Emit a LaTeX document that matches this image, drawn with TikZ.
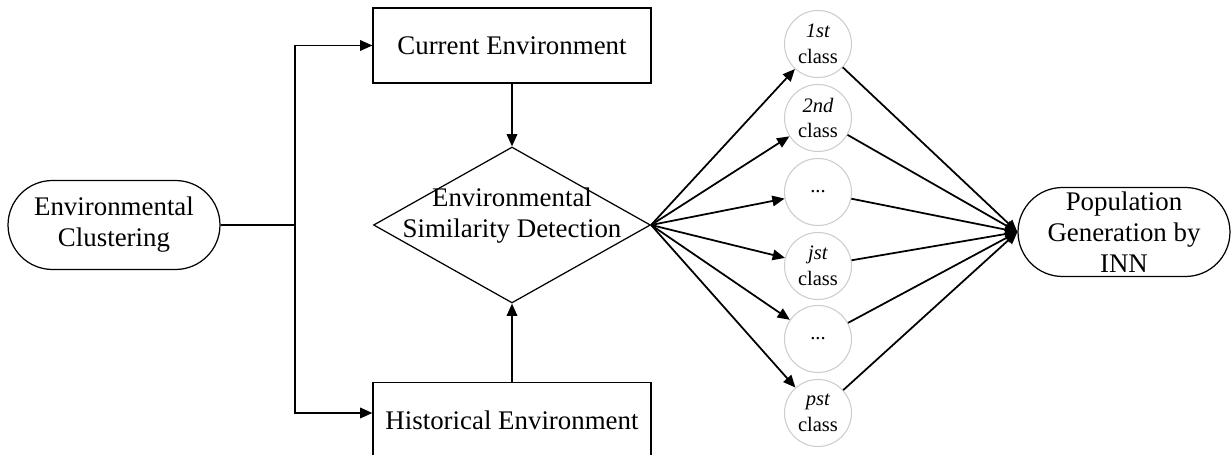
\documentclass[tikz,border=0pt]{standalone}
\usepackage{fontspec}
\setmainfont{Liberation Serif}
\usepackage{tikz}
\usetikzlibrary{arrows.meta, positioning, shapes.geometric, shapes.misc}

\begin{document}
\begin{tikzpicture}[x=0.02cm, y=-0.02cm,
    every node/.style={font=\fontsize{15.3}{17.6}\selectfont, align=center},
    box/.style={draw, line width=0.7pt, minimum width=5.56cm, minimum height=1.5cm, inner sep=0pt},
    pill/.style={draw, rounded rectangle, line width=0.7pt, minimum width=4.24cm, minimum height=1.78cm, inner sep=0pt},
    class/.style={draw=gray!40, circle, line width=0.6pt, minimum size=1.34cm, inner sep=0pt, font=\fontsize{11.7}{14.7}\selectfont},
    arr/.style={line width=1pt, -{Triangle[length=7pt, width=6pt]}}]
            \useasboundingbox (0,0) rectangle (1231,455);
            % Define nodes for the environments
            \node[pill] (cluster) at (114, 225) {Environmental\\Clustering};
            \node[box] (current) at (512, 45.5) {Current Environment};
            \node[box] (history) at (512, 420) {Historical Environment};
            \node[draw, diamond, aspect=1.78, inner sep=-8pt, minimum width=5.54cm, minimum height=3.12cm, line width=0.7pt] (detect) at (512, 225) {Environmental\\Similarity Detection\\[-4pt]};
            \coordinate (split) at (295, 225);
            % Define nodes for classes
            \node[class] (class-1) at (818, 44) {\textit{1st}\\class};
            \node[class] (class-2) at (818, 118) {\textit{2nd}\\class};
            \node[class] (class-3) at (818, 192) {...};
            \node[class] (class-4) at (818, 266) {\textit{jst}\\class};
            \node[class] (class-5) at (818, 339) {...};
            \node[class] (class-6) at (818, 413) {\textit{pst}\\class};
            % Output node
            \node[pill] (pop) at (1124, 232) {Population\\Generation by\\INN};
            % Connections
            \draw[line width=1pt] (cluster) -- (split);
            \draw[arr] (split) |- (current);
            \draw[arr] (split) |- ([yshift=0.14cm]history.west);
            \draw[arr] (current) -- (detect);
            \draw[arr] (history) -- (detect);
            \draw[arr] (detect.east) -- (class-1);
            \draw[arr] (detect.east) -- (class-2);
            \draw[arr] (detect.east) -- (class-3);
            \draw[arr] (detect.east) -- (class-4);
            \draw[arr] (detect.east) -- (class-5);
            \draw[arr] (detect.east) -- (class-6);
            \draw[arr] (class-1) -- (pop.west);
            \draw[arr] (class-2) -- (pop.west);
            \draw[arr] (class-3) -- (pop.west);
            \draw[arr] (class-4) -- (pop.west);
            \draw[arr] (class-5) -- (pop.west);
            \draw[arr] (class-6) -- (pop.west);
        \end{tikzpicture}
\end{document}
